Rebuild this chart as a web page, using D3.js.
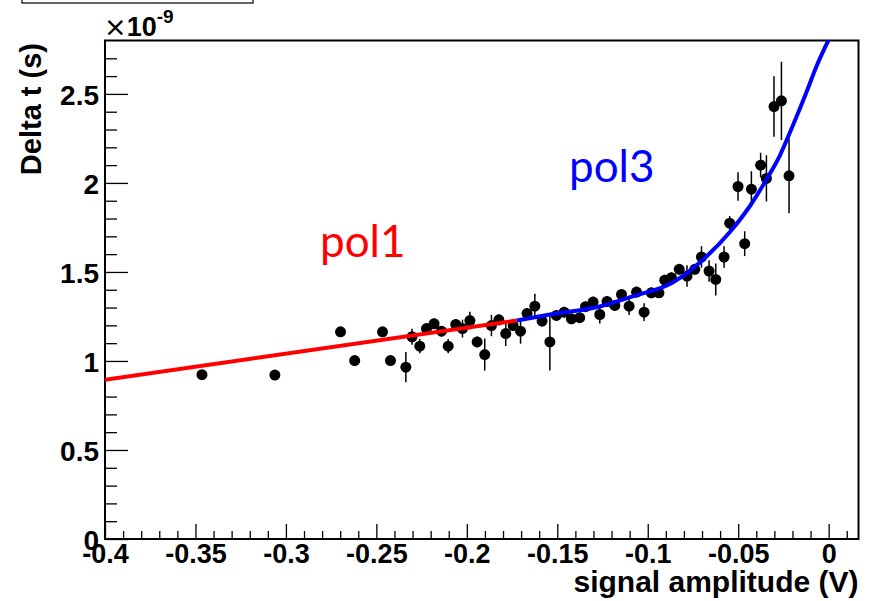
<!DOCTYPE html>
<html>
<head>
<meta charset="utf-8">
<script src="https://cdn.jsdelivr.net/npm/d3@7"></script>
<style>
  html, body { margin: 0; padding: 0; background: #fff; }
  svg { display: block; }
</style>
</head>
<body>
<svg id="chart" width="870" height="601"></svg>
<script>
// ---- data ----
const amplitude = [-0.3464, -0.3061, -0.2698, -0.2620, -0.2466, -0.2422, -0.2337, -0.2303,
  -0.2260, -0.2223, -0.2181, -0.2140, -0.2103, -0.2061, -0.2024, -0.1983, -0.1943, -0.1901,
  -0.1864, -0.1823, -0.1785, -0.1744, -0.1703, -0.1667, -0.1624, -0.1584, -0.1541, -0.1505,
  -0.1462, -0.1422, -0.1376, -0.1344, -0.1302, -0.1265, -0.1225, -0.1182, -0.1145, -0.1103,
  -0.1062, -0.1020, -0.0980, -0.0938, -0.0906, -0.0869, -0.0826, -0.0783, -0.0740, -0.0703,
  -0.0661, -0.0624, -0.0578, -0.0547, -0.0501, -0.0464, -0.0427, -0.0376, -0.0344, -0.0302,
  -0.0261, -0.0219];
const deltaT = [0.923, 0.921, 1.164, 1.002, 1.164, 1.002, 0.965, 1.136,
  1.083, 1.182, 1.209, 1.167, 1.083, 1.205, 1.182, 1.227, 1.107, 1.036,
  1.199, 1.231, 1.154, 1.199, 1.167, 1.267, 1.308, 1.224, 1.107, 1.256,
  1.274, 1.237, 1.243, 1.305, 1.331, 1.261, 1.334, 1.312, 1.374, 1.308,
  1.387, 1.274, 1.383, 1.383, 1.454, 1.468, 1.515, 1.477, 1.515, 1.584,
  1.505, 1.458, 1.584, 1.774, 1.980, 1.659, 1.965, 2.100, 2.025, 2.429,
  2.461, 2.040];
const deltaTErr = [0.02, 0.02, 0.02, 0.02, 0.02, 0.02, 0.085, 0.045,
  0.04, 0.03, 0.03, 0.03, 0.04, 0.03, 0.05, 0.05, 0.03, 0.09,
  0.06, 0.03, 0.07, 0.03, 0.07, 0.03, 0.07, 0.03, 0.16, 0.03,
  0.03, 0.03, 0.03, 0.03, 0.03, 0.05, 0.03, 0.03, 0.03, 0.05,
  0.03, 0.05, 0.03, 0.03, 0.03, 0.03, 0.03, 0.06, 0.03, 0.06,
  0.06, 0.09, 0.06, 0.04, 0.08, 0.07, 0.10, 0.07, 0.13, 0.17,
  0.22, 0.21];

// fit curves
const pol1X = [-0.4, -0.1724];
const pol1Y = [0.895, 1.2275];
const pol3X = [-0.1724, -0.1541, -0.1265, -0.1083, -0.0862, -0.0674, -0.0547, -0.0436,
  -0.0343, -0.0271, -0.0199, -0.0122, -0.0066, 0.0];
const pol3Y = [1.2275, 1.261, 1.306, 1.363, 1.441, 1.588, 1.723, 1.869,
  2.021, 2.151, 2.320, 2.511, 2.658, 2.804];

const xMajorTicks = [-0.4, -0.35, -0.3, -0.25, -0.2, -0.15, -0.1, -0.05, 0];
const xTickLabels = ["-0.4", "-0.35", "-0.3", "-0.25", "-0.2", "-0.15", "-0.1", "-0.05", "0"];
const yMajorTicks = [0, 0.5, 1, 1.5, 2, 2.5];
const yTickLabels = ["0", "0.5", "1", "1.5", "2", "2.5"];
const xTitle = "signal amplitude (V)";
const yTitle = "Delta t (s)";
const fitLabels = ["pol1", "pol3"];

// ---- layout ----
const pLeft = 105, pRight = 858.5, pTop = 40.5, pBottom = 539;
const x = d3.scaleLinear().domain([-0.4, 0.0165]).range([pLeft, pRight]);
const y = d3.scaleLinear().domain([0, 2.8]).range([pBottom, pTop]);

const svg = d3.select("#chart");
const rootFont = "'Liberation Sans', Arial, Helvetica, sans-serif";

// partial box at top
svg.append("rect").attr("x", 22).attr("y", -10).attr("width", 231).attr("height", 13)
  .attr("fill", "none").attr("stroke", "#000").attr("stroke-width", 1.2);

svg.append("defs").append("clipPath").attr("id", "plotclip")
  .append("rect").attr("x", pLeft).attr("y", pTop).attr("width", pRight - pLeft).attr("height", pBottom - pTop);

// x axis ticks (bottom)
const xMinor = d3.range(-40, 2).map(i => i / 100).filter(v => xMajorTicks.every(m => Math.abs(m - v) > 1e-9));
const xAxisMajor = d3.axisBottom(x).tickValues(xMajorTicks).tickSize(-15).tickFormat((d, i) => xTickLabels[i]);
const xAxisMinor = d3.axisBottom(x).tickValues(xMinor).tickSize(-8).tickFormat("");
const gxm = svg.append("g").attr("transform", `translate(0,${pBottom})`).call(xAxisMinor);
const gx = svg.append("g").attr("transform", `translate(0,${pBottom})`).call(xAxisMajor);

// y axis ticks (left)
const yMinor = d3.range(0, 28).map(i => i / 10).filter(v => yMajorTicks.every(m => Math.abs(m - v) > 1e-9));
const yAxisMajor = d3.axisLeft(y).tickValues(yMajorTicks).tickSize(-23).tickFormat((d, i) => yTickLabels[i]);
const yAxisMinor = d3.axisLeft(y).tickValues(yMinor).tickSize(-12).tickFormat("");
const gym = svg.append("g").attr("transform", `translate(${pLeft},0)`).call(yAxisMinor);
const gy = svg.append("g").attr("transform", `translate(${pLeft},0)`).call(yAxisMajor);

[gx, gxm, gy, gym].forEach(g => {
  g.select(".domain").remove();
  g.selectAll(".tick line").attr("stroke", "#000").attr("stroke-width", 1.3);
});
gx.selectAll(".tick text")
  .attr("font-family", rootFont).attr("font-weight", "bold").attr("font-size", 27)
  .attr("fill", "#000").attr("y", 0).attr("dy", 24)
  .attr("transform", "scale(1,1)");
gy.selectAll(".tick text")
  .attr("font-family", rootFont).attr("font-weight", "bold").attr("font-size", 28)
  .attr("fill", "#000").attr("x", -6).attr("dy", "0.36em");

// frame
svg.append("rect").attr("x", pLeft).attr("y", pTop).attr("width", pRight - pLeft).attr("height", pBottom - pTop)
  .attr("fill", "none").attr("stroke", "#000").attr("stroke-width", 2);

// exponent label
const expo = svg.append("text").attr("x", 104).attr("y", 36)
  .attr("font-family", rootFont).attr("font-size", 27).attr("fill", "#000");
expo.append("tspan").attr("font-family", "'DejaVu Sans', sans-serif").attr("font-weight", "normal").attr("font-size", 27).text("\u00d7");
expo.append("tspan").attr("font-weight", "bold").text("10");
expo.append("tspan").attr("font-weight", "bold").attr("font-size", 19).attr("dy", -13).text("-9");

// axis titles
svg.append("text").attr("x", pRight).attr("y", 592)
  .attr("text-anchor", "end").attr("font-family", rootFont).attr("font-weight", "bold")
  .attr("font-size", 30).attr("fill", "#000").text(xTitle);
svg.append("text").attr("transform", "translate(41,43) rotate(-90)")
  .attr("text-anchor", "end").attr("font-family", rootFont).attr("font-weight", "bold")
  .attr("font-size", 29).attr("fill", "#000").text(yTitle);

// data points with error bars
const pts = amplitude.map((a, i) => ({ x: a, y: deltaT[i], e: deltaTErr[i] }));
const gp = svg.append("g").attr("clip-path", "url(#plotclip)");
gp.selectAll("line.err").data(pts).join("line").attr("class", "err")
  .attr("x1", d => x(d.x)).attr("x2", d => x(d.x))
  .attr("y1", d => y(d.y - d.e)).attr("y2", d => y(d.y + d.e))
  .attr("stroke", "#000").attr("stroke-width", 1.5);
gp.selectAll("circle").data(pts).join("circle")
  .attr("cx", d => x(d.x)).attr("cy", d => y(d.y)).attr("r", 5.5).attr("fill", "#000");

// fit lines
const line = d3.line().x(d => x(d[0])).y(d => y(d[1]));
gp.append("path").datum(pol1X.map((v, i) => [v, pol1Y[i]]))
  .attr("d", line).attr("fill", "none").attr("stroke", "#ff0000").attr("stroke-width", 4);
gp.append("path").datum(pol3X.map((v, i) => [v, pol3Y[i]]))
  .attr("d", line.curve(d3.curveMonotoneX)).attr("fill", "none").attr("stroke", "#0000ff").attr("stroke-width", 4);

// fit labels
svg.append("text").attr("x", 320).attr("y", 257).attr("font-family", "Lato, 'Open Sans', sans-serif")
  .attr("font-size", 44).attr("fill", "#ff0000").text(fitLabels[0]);
svg.append("text").attr("x", 569).attr("y", 182).attr("font-family", "Lato, 'Open Sans', sans-serif")
  .attr("font-size", 44).attr("fill", "#0000ff").text(fitLabels[1]);
</script>
</body>
</html>
